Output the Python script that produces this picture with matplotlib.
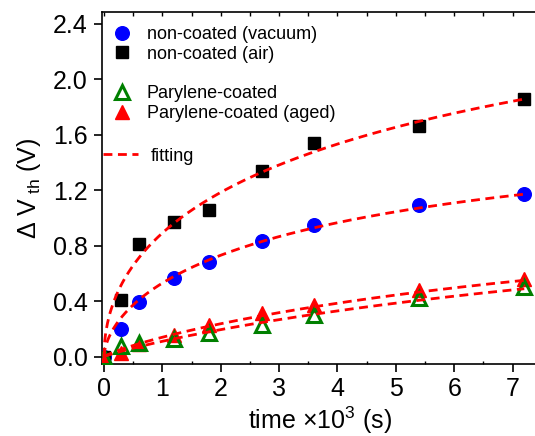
import numpy as np
import matplotlib
matplotlib.use('Agg')
import matplotlib.pyplot as plt
from matplotlib.lines import Line2D
from matplotlib.ticker import MultipleLocator

plt.rcParams['font.family'] = ['Liberation Sans', 'DejaVu Sans']
plt.rcParams['mathtext.fontset'] = 'custom'
plt.rcParams['mathtext.rm'] = 'Liberation Sans'
plt.rcParams['mathtext.it'] = 'Liberation Sans:italic'
plt.rcParams['mathtext.default'] = 'regular'

# data (time in 10^3 s, dVth in V)
time = [0, 0.3, 0.6, 1.2, 1.8, 2.7, 3.6, 5.4, 7.2]
vacuum = [0.0, 0.20, 0.395, 0.57, 0.68, 0.835, 0.95, 1.09, 1.17]
air = [0.0, 0.41, 0.815, 0.97, 1.06, 1.34, 1.54, 1.66, 1.86]
parylene = [0.0, 0.075, 0.10, 0.13, 0.17, 0.225, 0.30, 0.42, 0.50]
aged = [0.0, 0.03, 0.09, 0.16, 0.225, 0.315, 0.375, 0.48, 0.56]

# stretched-exponential fitting parameters (V0, tau, beta)
fit_vacuum = (1.6, 4.55, 0.60)
fit_air = (3.0, 7.72, 0.51)
fit_parylene = (1.0, 11.27, 0.883)
fit_aged = (1.0, 9.38, 0.844)

labels = ['non-coated (vacuum)', 'non-coated (air)', 'Parylene-coated',
          'Parylene-coated (aged)', 'fitting']


def stretched(t, p):
    v0, tau, beta = p
    return v0 * (1 - np.exp(-(t / tau) ** beta))


fig = plt.figure(figsize=(5.35, 4.36), dpi=100)
ax = fig.add_axes([0.190, 0.165, 0.815, 0.808])

ms_c = 9.8
ax.plot(time, vacuum, 'o', color='#0000FF', ms=ms_c, mec='#0000FF', zorder=3)
ax.plot(time, air, 's', color='black', ms=8.8, zorder=3)
ax.plot(time, aged, '^', color='#FF0000', ms=9.8, zorder=3)
ax.plot(time, parylene, '^', mfc='none', mec='#008000', mew=2.2, ms=9.8, zorder=4)

tf = np.linspace(0, max(time), 600)
for p in (fit_air, fit_vacuum, fit_aged, fit_parylene):
    ax.plot(tf, stretched(tf, p), color='#FF0000', lw=2.0, ls=(0, (3.2, 2.0)), zorder=5)

ax.set_xlim(-0.04, 7.43)
ax.set_ylim(-0.053, 2.486)

ax.xaxis.set_major_locator(MultipleLocator(1))
ax.xaxis.set_minor_locator(MultipleLocator(0.5))
ax.yaxis.set_major_locator(MultipleLocator(0.4))
ax.tick_params(axis='x', which='major', direction='out', length=6, width=1.2,
               labelsize=18, pad=3)
ax.tick_params(axis='x', which='minor', direction='in', length=2, width=1)
ax.tick_params(axis='y', which='major', direction='out', length=6, width=1.2,
               labelsize=18, pad=4)
ax.yaxis.set_major_formatter(matplotlib.ticker.FormatStrFormatter('%.1f'))

ax.spines['right'].set_visible(False)
for s in ('left', 'bottom', 'top'):
    ax.spines[s].set_linewidth(1.2)

# top ticks (inward, small)
sec = ax.secondary_xaxis('top')
sec.xaxis.set_major_locator(MultipleLocator(0.5))
sec.tick_params(direction='in', length=3, width=1, labeltop=False)
sec.spines['top'].set_visible(False)

ax.set_xlabel(u'time \u00d710$^{3}$ (s)', fontsize=18, labelpad=3)
ax.set_ylabel(u'\u0394 V$_{\\ th}$ (V)', fontsize=18, labelpad=7)

blank = Line2D([], [], ls='none', marker='none')
h1 = [Line2D([], [], ls='none', marker='o', color='#0000FF', ms=ms_c),
      Line2D([], [], ls='none', marker='s', color='black', ms=8.8),
      blank,
      Line2D([], [], ls='none', marker='^', mfc='none', mec='#008000', mew=2.2, ms=9.8),
      Line2D([], [], ls='none', marker='^', color='#FF0000', ms=9.8)]
l1 = ax.legend(h1, [labels[0], labels[1], '', labels[2], labels[3]],
               loc='upper left', bbox_to_anchor=(0.0266, 0.96), frameon=False,
               fontsize=13, labelspacing=0.155, handlelength=1.0,
               handletextpad=0.85, borderpad=0, borderaxespad=0)
ax.add_artist(l1)
h2 = [Line2D([], [], color='#FF0000', lw=2.0, ls=(0, (3.2, 2.0)))]
ax.legend(h2, [labels[4]], loc='upper left', bbox_to_anchor=(0.002, 0.614),
          frameon=False, fontsize=13, handlelength=1.97, handletextpad=0.69,
          borderpad=0, borderaxespad=0)

fig.savefig('out.png', dpi=100)
